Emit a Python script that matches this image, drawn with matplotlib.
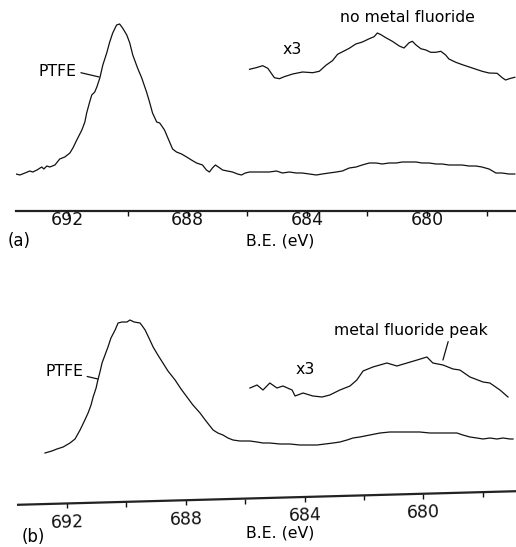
import matplotlib
matplotlib.use("Agg")
import matplotlib.pyplot as plt
from matplotlib.ticker import FixedLocator
from matplotlib.transforms import Affine2D

plt.rcParams['font.family'] = ['DejaVu Sans']

# ---------------- Panel (a) : F 1s, no metal fluoride ----------------
a_main_be = [693.73, 693.60, 693.43, 693.27, 693.17, 693.03, 692.87, 692.80, 692.70, 692.60,
             692.43,
             692.27, 692.10, 691.93, 691.83, 691.70, 691.53, 691.43, 691.37, 691.27, 691.20,
             691.10, 691.03, 690.93, 690.83, 690.70, 690.60, 690.50, 690.37, 690.27, 690.17,
             690.03, 689.93, 689.83, 689.67, 689.53, 689.37, 689.27, 689.17, 689.03, 688.93,
             688.77, 688.60, 688.50, 688.37,
             688.20, 688.03, 687.87, 687.70, 687.50, 687.37, 687.27, 687.17, 687.07, 686.97,
             686.83, 686.67, 686.50, 686.33, 686.20, 686.07, 685.93,
             685.70, 685.50, 685.27, 685.03, 684.83, 684.60, 684.37, 684.17, 683.93, 683.70,
             683.50, 683.27, 683.03, 682.83, 682.60, 682.37, 682.17, 681.93, 681.70, 681.50,
             681.27, 681.03, 680.83, 680.60, 680.37, 680.17, 679.93, 679.70, 679.50, 679.27,
             679.03, 678.83, 678.60, 678.37, 678.17, 677.93, 677.70, 677.50, 677.27, 677.07]
a_main_int = [37, 36, 38, 40, 39, 41, 44, 42, 45, 44,
              46,
              52, 54, 58, 63, 71, 81, 89, 98, 109, 116,
              119, 124, 133, 146, 158, 169, 178, 186, 187, 183,
              176, 168, 156, 143, 133, 119, 109, 98, 89, 88,
              81, 69, 62, 59,
              57, 54, 51, 48, 46, 41, 39, 43, 46, 44,
              41, 40, 39, 37, 36, 38, 39,
              39, 39, 39, 40, 38, 39, 38, 38, 37, 36,
              37, 38, 39, 40, 43, 44, 46, 48, 48, 47,
              48, 48, 49, 49, 49, 48, 48, 47, 47, 46,
              46, 46, 45, 45, 44, 42, 38, 38, 37, 37]

a_x3_be = [685.93, 685.71, 685.49, 685.32, 685.10, 684.93, 684.77, 684.49, 684.16, 683.82,
           683.60, 683.49, 683.38, 683.16, 682.99, 682.82, 682.60, 682.38, 682.16, 681.93,
           681.77, 681.66, 681.54, 681.38, 681.16, 680.93, 680.77, 680.60, 680.49, 680.38,
           680.21, 680.04, 679.88, 679.71, 679.54, 679.38, 679.27, 679.04, 678.82, 678.49,
           678.16, 677.93, 677.66, 677.49, 677.38, 677.21, 677.07]
a_x3_int = [141.7, 143.3, 145.3, 142.7, 133.3, 132.3, 134.3, 137.0, 139.0, 138.3,
            139.7, 142.7, 145.7, 150.3, 156.7, 159.3, 162.7, 167.0, 169.0, 172.3,
            174.3, 178.0, 176.3, 173.3, 169.7, 165.0, 163.0, 168.3, 169.7, 166.3,
            162.3, 161.0, 158.7, 158.7, 159.7, 156.0, 152.0, 148.7, 146.3, 143.0,
            139.7, 138.0, 137.7, 133.3, 131.0, 132.7, 133.7]

# ---------------- Panel (b) : F 1s, metal fluoride peak ----------------
b_main_be = [692.74, 692.51, 692.34, 692.13, 691.90, 691.73, 691.56, 691.43, 691.29, 691.19,
             691.12, 691.02, 690.96, 690.89, 690.82, 690.72, 690.62, 690.52, 690.38, 690.28,
             690.15, 689.98, 689.88, 689.74, 689.54, 689.44, 689.37, 689.24, 689.10, 688.94,
             688.77, 688.60, 688.36, 688.16, 687.96, 687.76, 687.52, 687.32, 687.08, 686.92,
             686.75, 686.58, 686.41, 686.18, 686.01, 685.84, 685.60, 685.40, 685.17, 684.83,
             684.49, 684.16, 683.82, 683.58, 683.31, 683.04, 682.81, 682.57, 682.37, 682.14,
             681.80, 681.46, 681.13, 680.79, 680.45, 680.12, 679.78, 679.44, 679.10, 678.87,
             678.67, 678.43, 678.20, 677.99, 677.76, 677.52, 677.32, 677.08, 676.98]
b_main_int = [45, 47, 49, 51, 55, 59, 68, 76, 85, 93,
              101, 110, 118, 126, 135, 143, 151, 160, 168, 175,
              176, 176, 178, 176, 175, 171, 168, 160, 151, 143,
              135, 127, 118, 109, 101, 93, 85, 77, 68, 65,
              63, 60, 58, 57, 57, 57, 56, 55, 55, 54,
              54, 53, 53, 53, 54, 55, 56, 58, 60, 61,
              63, 65, 66, 66, 66, 66, 65, 65, 65, 65,
              63, 61, 60, 59, 60, 59, 60, 59, 59]

b_x3_be = [685.84, 685.60, 685.40, 685.17, 684.93, 684.73, 684.42, 684.32, 684.05, 683.72,
           683.41, 683.15, 682.81, 682.47, 682.24, 682.03, 681.70, 681.23, 680.89, 680.55,
           680.21, 679.88, 679.68, 679.34, 679.00, 678.77, 678.43, 677.99, 677.76, 677.42,
           677.15]
b_x3_int = [110, 113, 108, 115, 110, 112, 108, 102, 105, 102,
            101, 103, 108, 112, 118, 127, 131, 135, 132, 135,
            138, 141, 135, 133, 129, 128, 121, 116, 115, 108,
            101]

major_ticks = [692, 688, 684, 680]
minor_ticks = [690, 686, 682, 678]

W, H = 516, 547
fig = plt.figure(figsize=(W / 100, H / 100), dpi=100)
LC = '#111111'
LW = 0.9
FS = 11.3


def setup(ax, xlim, ylim, pad):
    ax.set_xlim(*xlim)
    ax.set_ylim(*ylim)
    for s in ['left', 'right', 'top']:
        ax.spines[s].set_visible(False)
    ax.spines['bottom'].set_linewidth(1.6)
    ax.spines['bottom'].set_color('#222222')
    ax.set_yticks([])
    ax.xaxis.set_major_locator(FixedLocator(major_ticks))
    ax.xaxis.set_minor_locator(FixedLocator(minor_ticks))
    ax.tick_params(axis='x', which='both', direction='out', length=3.5,
                   width=1.0, pad=pad, labelsize=12.5, colors='#111111')
    ax.patch.set_visible(False)


# Panel (a)
ax_a = fig.add_axes([16 / W, 1 - 211 / H, 500 / W, 211 / H])
setup(ax_a, (693.73, 677.03), (0, 211), -3.2)
ax_a.plot(a_main_be, a_main_int, color=LC, lw=LW)
ax_a.plot(a_x3_be, a_x3_int, color=LC, lw=LW)
ax_a.annotate('PTFE', xy=(690.95, 134), xytext=(691.70, 140), ha='right', va='center',
              fontsize=FS,
              arrowprops=dict(arrowstyle='-', lw=LW, color=LC, shrinkA=1, shrinkB=0,
                              relpos=(1.0, 0.45)))
ax_a.text(684.50, 161, 'x3', ha='center', va='center', fontsize=FS)
ax_a.text(680.67, 193, 'no metal fluoride', ha='center', va='center', fontsize=FS)

# Panel (b)
ax_b = fig.add_axes([18 / W, 1 - 498 / H, 498 / W, 218 / H])
setup(ax_b, (693.65, 676.88), (0, 218), 3.3)
ax_b.plot(b_main_be, b_main_int, color=LC, lw=LW)
ax_b.plot(b_x3_be, b_x3_int, color=LC, lw=LW)
ax_b.annotate('PTFE', xy=(690.96, 119), xytext=(691.46, 127), ha='right', va='center',
              fontsize=FS,
              arrowprops=dict(arrowstyle='-', lw=LW, color=LC, shrinkA=1, shrinkB=0,
                              relpos=(1.0, 0.2)))
ax_b.text(683.99, 129, 'x3', ha='center', va='center', fontsize=FS)
ax_b.annotate('metal fluoride peak', xy=(679.34, 138), xytext=(680.42, 168),
              ha='center', va='center', fontsize=FS,
              arrowprops=dict(arrowstyle='-', lw=LW, color=LC, shrinkA=1, shrinkB=0,
                              relpos=(0.75, 0.0)))

# Panel labels and axis titles
fig.text(19 / W, 1 - 241 / H, '(a)', ha='center', va='center', fontsize=12)
fig.text(280 / W, 1 - 241 / H, 'B.E. (eV)', ha='center', va='center', fontsize=11.3)
fig.text(33 / W, 1 - 537 / H, '(b)', ha='center', va='center', fontsize=12)
fig.text(280 / W, 1 - 533 / H, 'B.E. (eV)', ha='center', va='center', fontsize=11.3)

# The scanned axis of panel (b) is slightly tilted: rotate spine, ticks and labels
fig.canvas.draw()
ang = 1.56
rot = Affine2D().rotate_deg_around(267, H - 498, ang)
sp = ax_b.spines['bottom']
sp.set_transform(sp.get_transform() + rot)
for t in ax_b.xaxis.get_major_ticks() + ax_b.xaxis.get_minor_ticks():
    t.tick1line.set_transform(t.tick1line.get_transform() + rot)
    t.label1.set_transform(t.label1.get_transform() + rot)
    t.label1.set_rotation(ang)

fig.savefig('out.png', dpi=100)
